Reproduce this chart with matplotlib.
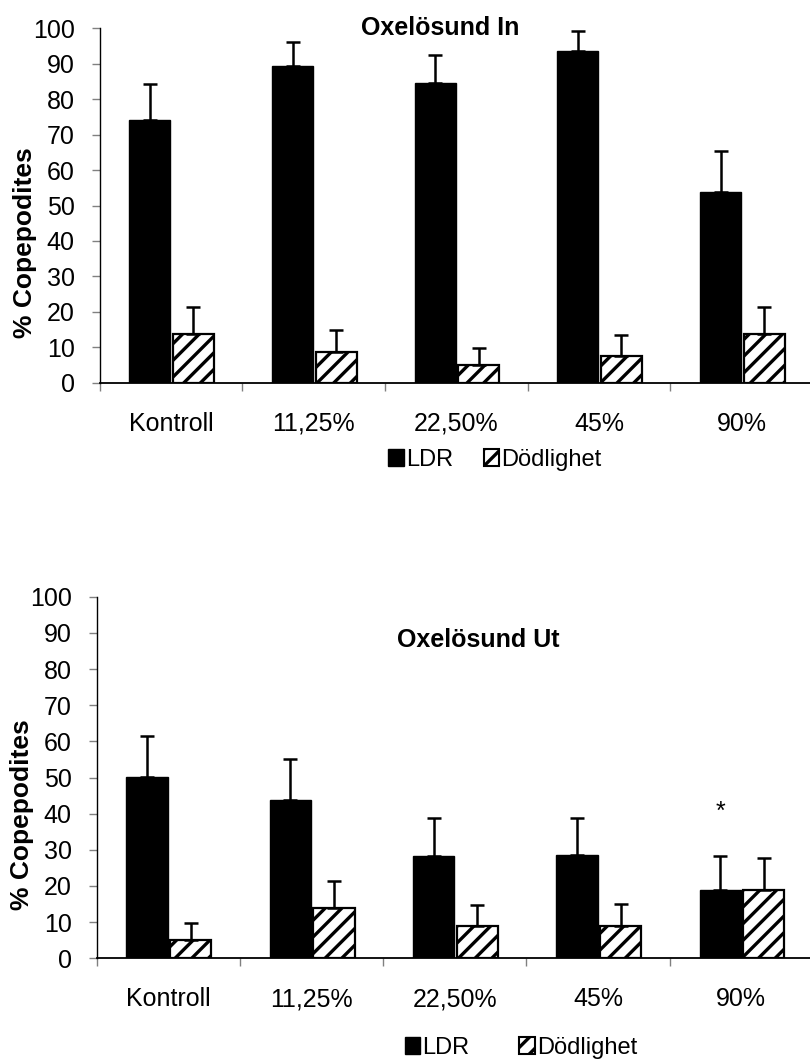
import matplotlib
matplotlib.use('Agg')
import matplotlib.pyplot as plt
from matplotlib.patches import Patch
import numpy as np

plt.rcParams['font.family'] = ['Liberation Sans', 'DejaVu Sans']
plt.rcParams['hatch.linewidth'] = 2.4

kategorier = ['Kontroll', '11,25%', '22,50%', '45%', '90%']

# Oxelösund In
ldr_in = [74.1, 89.3, 84.5, 93.5, 53.8]
ldr_in_fel = [10.1, 6.9, 8.0, 5.6, 11.6]
dod_in = [13.8, 8.8, 5.0, 7.5, 13.8]
dod_in_fel = [7.5, 6.0, 4.8, 5.9, 7.5]

# Oxelösund Ut
ldr_ut = [50.2, 43.7, 28.4, 28.6, 19.0]
ldr_ut_fel = [11.2, 11.4, 10.3, 10.1, 9.3]
dod_ut = [5.1, 13.8, 9.0, 8.8, 19.0]
dod_ut_fel = [4.8, 7.5, 5.7, 6.1, 8.7]

W, H = 810, 1059
fig = plt.figure(figsize=(W / 100, H / 100), dpi=100)


def rita(ax, ldr, ldr_fel, dod, dod_fel):
    x = np.arange(len(kategorier))
    xl = x - 0.148
    xd = x + 0.157
    bw = 0.288
    ax.bar(xl, ldr, bw, color='black', edgecolor='black', linewidth=1, zorder=2)
    ax.bar(xd, dod, bw, color='white', edgecolor='black', linewidth=1.6,
           hatch='//', zorder=2)
    noll = np.zeros(len(x))
    ax.errorbar(xl, ldr, yerr=[noll, ldr_fel], fmt='none', ecolor='black',
                elinewidth=1.8, capsize=5, capthick=1.8, zorder=3)
    ax.errorbar(xd, dod, yerr=[noll, dod_fel], fmt='none', ecolor='black',
                elinewidth=1.8, capsize=5, capthick=1.8, zorder=3)

    ax.set_xlim(-0.5, 4.5)
    ax.set_ylim(0, 100)
    ax.set_yticks(np.arange(0, 101, 10))
    ax.tick_params(axis='y', direction='out', length=6, width=1,
                   color='#808080', labelsize=18, pad=12)
    ax.set_xticks(np.arange(-0.5, 5, 1.0))
    ax.set_xticklabels([])
    ax.set_xticks(x, minor=True)
    ax.set_xticklabels(kategorier, minor=True)
    ax.tick_params(axis='x', which='major', direction='out', length=6,
                   width=1, color='#808080')
    ax.tick_params(axis='x', which='minor', length=0, labelsize=18, pad=21)
    for s in ['top', 'right']:
        ax.spines[s].set_visible(False)
    ax.spines['left'].set_linewidth(1.0)
    ax.spines['bottom'].set_linewidth(1.3)
    ax.spines['left'].set_color('black')
    ax.spines['bottom'].set_color('black')


def legend(cx, cy, avstand):
    handtag = [Patch(facecolor='black', edgecolor='black', linewidth=1),
               Patch(facecolor='white', edgecolor='black', linewidth=1.5,
                     hatch='//')]
    fig.legend(handtag, ['LDR', 'Dödlighet'], loc='center',
               bbox_to_anchor=(cx / W, 1 - cy / H), ncol=2, frameon=False,
               fontsize=17, handlelength=0.65, handleheight=0.7,
               handletextpad=0.1, columnspacing=avstand, borderpad=0,
               borderaxespad=0)


ax1 = fig.add_axes([99.7 / W, 1 - 382.7 / H, (813 - 99.7) / W, (382.7 - 28.3) / H])
rita(ax1, ldr_in, ldr_in_fel, dod_in, dod_in_fel)
ax1.text(0.478, 1.0, 'Oxelösund In', transform=ax1.transAxes, ha='center',
         va='center', fontsize=18, fontweight='bold')
fig.text(25 / W, 1 - 243 / H, '% Copepodites', rotation=90, ha='center',
         va='center', fontsize=19, fontweight='bold')
legend(495, 460, 1.3)

ax2 = fig.add_axes([96.7 / W, 1 - 958.3 / H, (813 - 96.7) / W, (958.3 - 596.7) / H])
rita(ax2, ldr_ut, ldr_ut_fel, dod_ut, dod_ut_fel)
ax2.text(0.532, 0.880, 'Oxelösund Ut', transform=ax2.transAxes, ha='center',
         va='center', fontsize=18, fontweight='bold')
fig.text(22 / W, 1 - 815 / H, '% Copepodites', rotation=90, ha='center',
         va='center', fontsize=19, fontweight='bold')
ax2.text(4 - 0.148, 38.5, '*', ha='center', va='baseline', fontsize=18)
legend(521, 1048, 2.1)

fig.savefig('out.png', dpi=100)
